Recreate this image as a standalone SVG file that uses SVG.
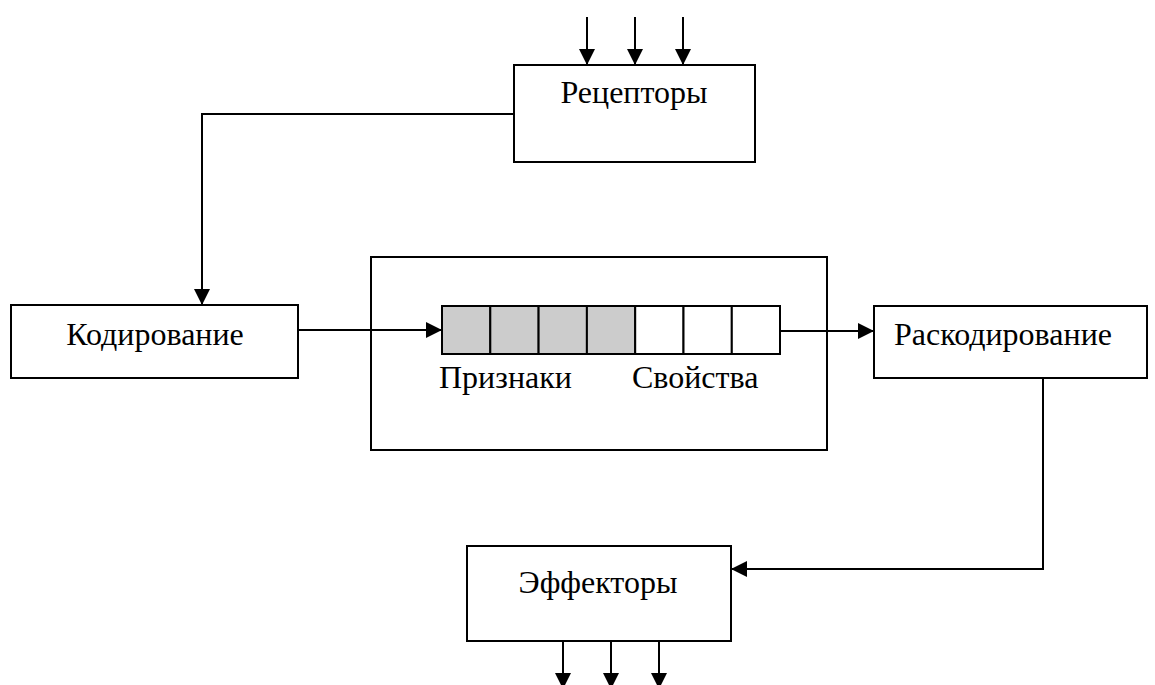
<svg xmlns="http://www.w3.org/2000/svg" width="1155" height="685" viewBox="0 0 1155 685">
<style>
.box{fill:#fff;stroke:#000;stroke-width:2}
.cell{stroke:#000;stroke-width:2}
.g{fill:#cccccc}
.w{fill:#fff}
.t{font-family:"Liberation Serif","Times New Roman",serif;font-size:32px;fill:#000}
.c{fill:none;stroke:#000;stroke-width:2}
</style>
<defs>
<marker id="ah" viewBox="0 0 16 16" refX="16" refY="8" markerWidth="16" markerHeight="16" markerUnits="userSpaceOnUse" orient="auto">
<path d="M0,0 L16,8 L0,16 Z" fill="#000"/>
</marker>
</defs>
<g id="receptors">
<rect class="box" x="514" y="65" width="241" height="97"/>
<text class="t" x="634" y="103" text-anchor="middle">Рецепторы</text>
</g>
<g id="coding">
<rect class="box" x="11" y="305" width="287" height="73"/>
<text class="t" x="155" y="345" text-anchor="middle">Кодирование</text>
</g>
<g id="memory">
<rect class="box" x="371" y="257" width="456" height="193"/>
<rect class="cell g" x="442" y="306" width="48.3" height="48"/>
<rect class="cell g" x="490.3" y="306" width="48.3" height="48"/>
<rect class="cell g" x="538.6" y="306" width="48.3" height="48"/>
<rect class="cell g" x="586.9" y="306" width="48.3" height="48"/>
<rect class="cell w" x="635.2" y="306" width="48.3" height="48"/>
<rect class="cell w" x="683.5" y="306" width="48.3" height="48"/>
<rect class="cell w" x="731.8" y="306" width="48.2" height="48"/>
<text class="t" x="439" y="388">Признаки</text>
<text class="t" x="632" y="388">Свойства</text>
</g>
<g id="decoding">
<rect class="box" x="874" y="306" width="273" height="72"/>
<text class="t" x="894" y="345">Раскодирование</text>
</g>
<g id="effectors">
<rect class="box" x="467" y="546" width="264" height="95"/>
<text class="t" x="598" y="593" text-anchor="middle">Эффекторы</text>
</g>
<g id="connectors">
<line class="c" x1="587" y1="17" x2="587" y2="65" marker-end="url(#ah)"/>
<line class="c" x1="635" y1="17" x2="635" y2="65" marker-end="url(#ah)"/>
<line class="c" x1="683" y1="17" x2="683" y2="65" marker-end="url(#ah)"/>
<path class="c" d="M514,114 H202 V305" marker-end="url(#ah)"/>
<line class="c" x1="298" y1="330" x2="442" y2="330" marker-end="url(#ah)"/>
<line class="c" x1="780" y1="331" x2="874" y2="331" marker-end="url(#ah)"/>
<path class="c" d="M1043,378 V569 H731" marker-end="url(#ah)"/>
<line class="c" x1="563" y1="641" x2="563" y2="689" marker-end="url(#ah)"/>
<line class="c" x1="611" y1="641" x2="611" y2="689" marker-end="url(#ah)"/>
<line class="c" x1="659" y1="641" x2="659" y2="689" marker-end="url(#ah)"/>
</g>
</svg>
